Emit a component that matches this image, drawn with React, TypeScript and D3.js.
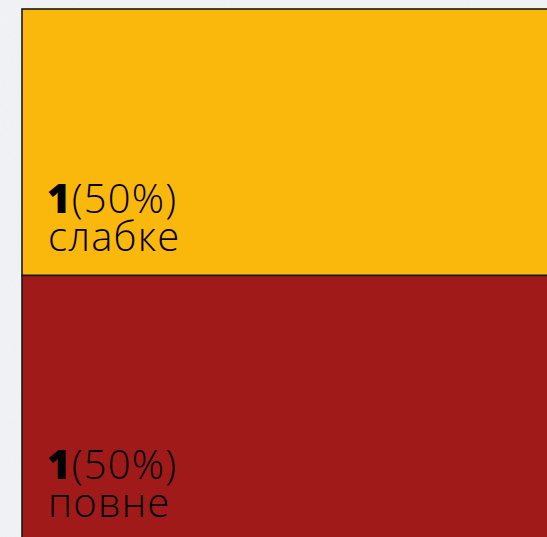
import React from "react";
import * as d3 from "d3";

const categories = ["слабке", "повне"];
const values = [1, 1];
const colors = ["#FBB80C", "#A11A1A"];

const W = 547;
const H = 537;

export default function App() {
  const total = d3.sum(values);
  const root = d3
    .hierarchy({ children: categories.map((c, i) => ({ name: c, value: values[i], color: colors[i] })) } as any)
    .sum((d: any) => d.value ?? 0);
  d3.treemap().tile(d3.treemapSlice).size([560 - 22, 542 - 9]).padding(0)(root as any);
  const leaves = root.leaves() as any[];
  const fmt = d3.format(".0%");

  return (
    <div style={{ position: "fixed", left: 0, top: 0, width: W, height: H }}>
      <svg width={W} height={H} style={{ display: "block" }}>
        <defs>
          <filter id="grain" x="0" y="0" width="100%" height="100%">
            <feTurbulence type="fractalNoise" baseFrequency="0.9" numOctaves="2" seed="3" result="n" />
            <feColorMatrix type="matrix" values="0 0 0 0 0.75  0 0 0 0 0.77  0 0 0 0 0.8  0 0 0 -1.6 0.9" />
          </filter>
        </defs>
        <rect width={W} height={H} fill="#F1F2F5" />
        <rect width={W} height={H} filter="url(#grain)" opacity={0.35} />
        <g transform="translate(22,9)">
          {leaves.map((d, i) => (
            <g key={i}>
              <rect
                x={d.x0}
                y={d.y0}
                width={d.x1 - d.x0}
                height={d.y1 - d.y0}
                fill={d.data.color}
                stroke="#1a1a1a"
                strokeWidth={1.6}
              />
              <text
                x={d.x0 + 25}
                y={d.y1 - 63}
                fontFamily="'Open Sans', sans-serif"
                fontSize={40}
                fill="#000"
                letterSpacing={1.2}
              >
                <tspan fontWeight={800}>{d.data.value}</tspan>
                <tspan fontWeight={300}>({fmt(d.data.value / total)})</tspan>
                <tspan x={d.x0 + 26} dy={38} fontWeight={300}>
                  {d.data.name}
                </tspan>
              </text>
            </g>
          ))}
        </g>
      </svg>
    </div>
  );
}
